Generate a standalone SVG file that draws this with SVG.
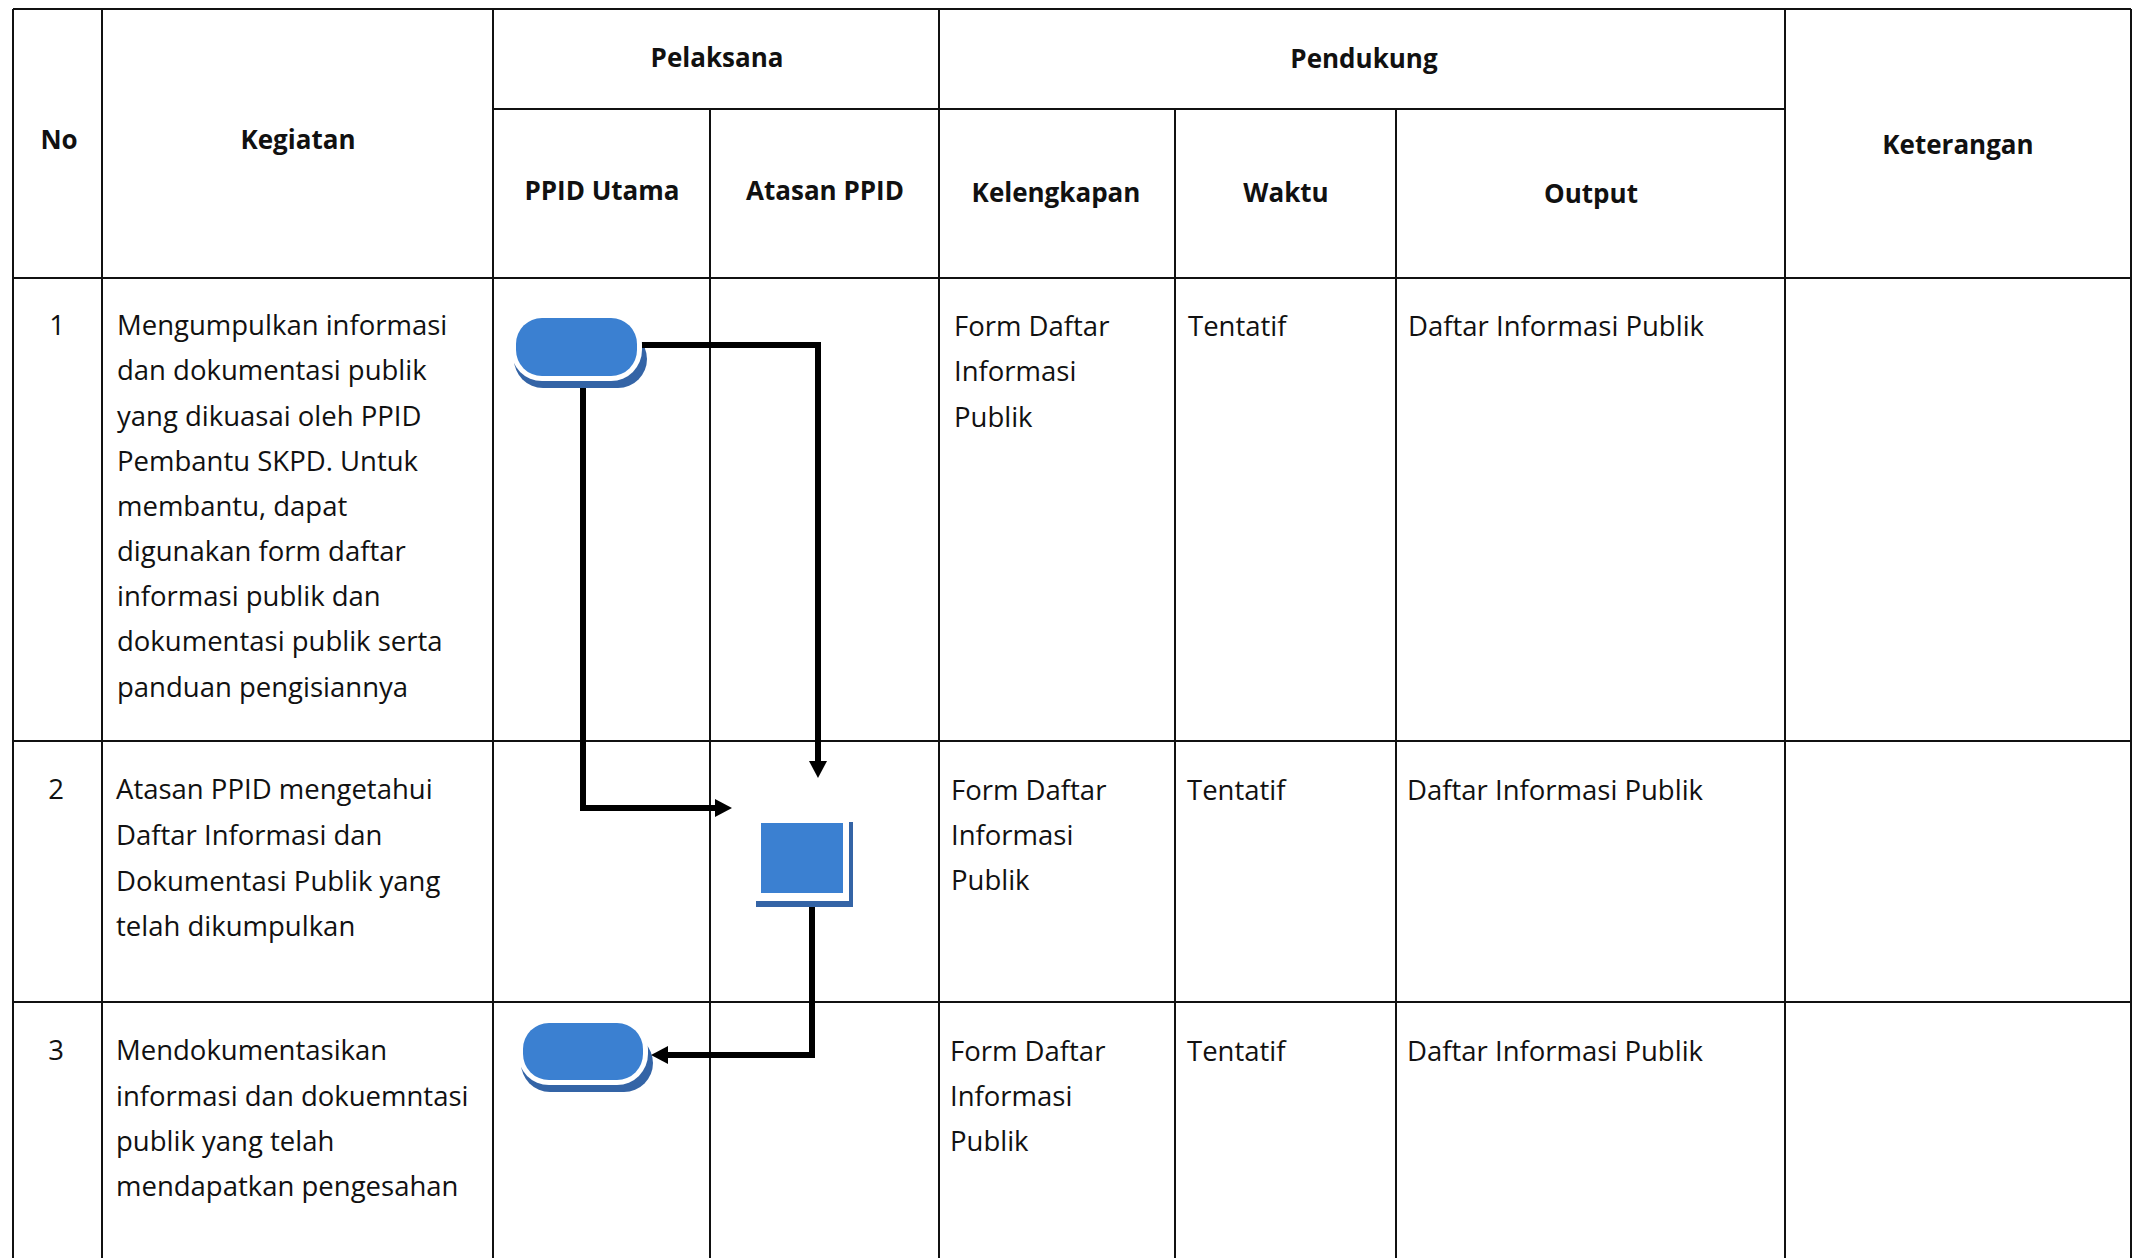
<svg xmlns="http://www.w3.org/2000/svg" width="2137" height="1258" viewBox="0 0 2137 1258">
<style>
.grid line{stroke:#111;stroke-width:2}
.h{font-family:"Open Sans","Liberation Sans",sans-serif;font-weight:bold;font-size:26px;fill:#111;text-anchor:middle}
.t{font-family:"Open Sans","Liberation Sans",sans-serif;font-size:27.5px;fill:#111}
.n{font-family:"Open Sans","Liberation Sans",sans-serif;font-size:27.5px;fill:#111;text-anchor:middle}
.main{fill:#3b80d1}
.gap{fill:#fff}
.shd{fill:#3464a6}
.conn path{fill:none;stroke:#000;stroke-width:6;stroke-linejoin:miter}
</style>
<defs>
<marker id="arr" markerUnits="userSpaceOnUse" markerWidth="18" markerHeight="18" refX="1" refY="9" orient="auto">
<path d="M0,0 L17,9 L0,18 z" fill="#000"/>
</marker>
</defs>
<rect width="2137" height="1258" fill="#fff"/>
<g class="grid">
<line x1="13" y1="9" x2="2131" y2="9"/>
<line x1="493" y1="109" x2="1785" y2="109"/>
<line x1="13" y1="278" x2="2131" y2="278"/>
<line x1="13" y1="741" x2="2131" y2="741"/>
<line x1="13" y1="1002" x2="2131" y2="1002"/>
<line x1="13" y1="9" x2="13" y2="1258"/>
<line x1="102" y1="9" x2="102" y2="1258"/>
<line x1="493" y1="9" x2="493" y2="1258"/>
<line x1="710" y1="109" x2="710" y2="1258"/>
<line x1="939" y1="9" x2="939" y2="1258"/>
<line x1="1175" y1="109" x2="1175" y2="1258"/>
<line x1="1396" y1="109" x2="1396" y2="1258"/>
<line x1="1785" y1="9" x2="1785" y2="1258"/>
<line x1="2131" y1="9" x2="2131" y2="1258"/>
</g>
<g id="headers">
<text class="h" x="59" y="149">No</text>
<text class="h" x="298" y="149">Kegiatan</text>
<text class="h" x="717" y="67">Pelaksana</text>
<text class="h" x="602" y="200">PPID Utama</text>
<text class="h" x="825" y="200">Atasan PPID</text>
<text class="h" x="1364" y="68">Pendukung</text>
<text class="h" x="1056" y="202">Kelengkapan</text>
<text class="h" x="1286" y="202">Waktu</text>
<text class="h" x="1591" y="203">Output</text>
<text class="h" x="1958" y="154">Keterangan</text>
</g>
<g id="row1">
<text class="n" x="57" y="335">1</text>
<text class="t" x="117" y="335">Mengumpulkan informasi</text>
<text class="t" x="117" y="380">dan dokumentasi publik</text>
<text class="t" x="117" y="426">yang dikuasai oleh PPID</text>
<text class="t" x="117" y="471">Pembantu SKPD. Untuk</text>
<text class="t" x="117" y="516">membantu, dapat</text>
<text class="t" x="117" y="561">digunakan form daftar</text>
<text class="t" x="117" y="606">informasi publik dan</text>
<text class="t" x="117" y="651">dokumentasi publik serta</text>
<text class="t" x="117" y="697">panduan pengisiannya</text>
<text class="t" x="954" y="336">Form Daftar</text>
<text class="t" x="954" y="381">Informasi</text>
<text class="t" x="954" y="427">Publik</text>
<text class="t" x="1188" y="336">Tentatif</text>
<text class="t" x="1408" y="336">Daftar Informasi Publik</text>
</g>
<g id="row2">
<text class="n" x="56" y="799">2</text>
<text class="t" x="116" y="799">Atasan PPID mengetahui</text>
<text class="t" x="116" y="845">Daftar Informasi dan</text>
<text class="t" x="116" y="891">Dokumentasi Publik yang</text>
<text class="t" x="116" y="936">telah dikumpulkan</text>
<text class="t" x="951" y="800">Form Daftar</text>
<text class="t" x="951" y="845">Informasi</text>
<text class="t" x="951" y="890">Publik</text>
<text class="t" x="1187" y="800">Tentatif</text>
<text class="t" x="1407" y="800">Daftar Informasi Publik</text>
</g>
<g id="row3">
<text class="n" x="56" y="1060">3</text>
<text class="t" x="116" y="1060">Mendokumentasikan</text>
<text class="t" x="116" y="1106">informasi dan dokuemntasi</text>
<text class="t" x="116" y="1151">publik yang telah</text>
<text class="t" x="116" y="1196">mendapatkan pengesahan</text>
<text class="t" x="950" y="1061">Form Daftar</text>
<text class="t" x="950" y="1106">Informasi</text>
<text class="t" x="950" y="1151">Publik</text>
<text class="t" x="1187" y="1061">Tentatif</text>
<text class="t" x="1407" y="1061">Daftar Informasi Publik</text>
</g>
<g id="node-start">
<rect class="shd" x="514" y="330" width="133" height="58" rx="29"/>
<rect class="gap" x="511" y="313" width="131" height="68" rx="31"/>
<rect class="main" x="516" y="318" width="121" height="58" rx="26"/>
</g>
<g id="node-process">
<rect class="shd" x="756" y="822" width="97" height="85"/>
<rect class="gap" x="755" y="817" width="94" height="84"/>
<rect class="main" x="761" y="823" width="82" height="70"/>
</g>
<g id="node-end">
<rect class="shd" x="521" y="1034" width="132" height="58" rx="29"/>
<rect class="gap" x="518" y="1018" width="130" height="67" rx="31"/>
<rect class="main" x="523" y="1023" width="120" height="57" rx="26"/>
</g>
<g class="conn" id="connectors">
<path d="M642 345 H818 V762" marker-end="url(#arr)"/>
<path d="M583 388 V808 H716" marker-end="url(#arr)"/>
<path d="M812 907 V1055 H667" marker-end="url(#arr)"/>
</g>
</svg>
